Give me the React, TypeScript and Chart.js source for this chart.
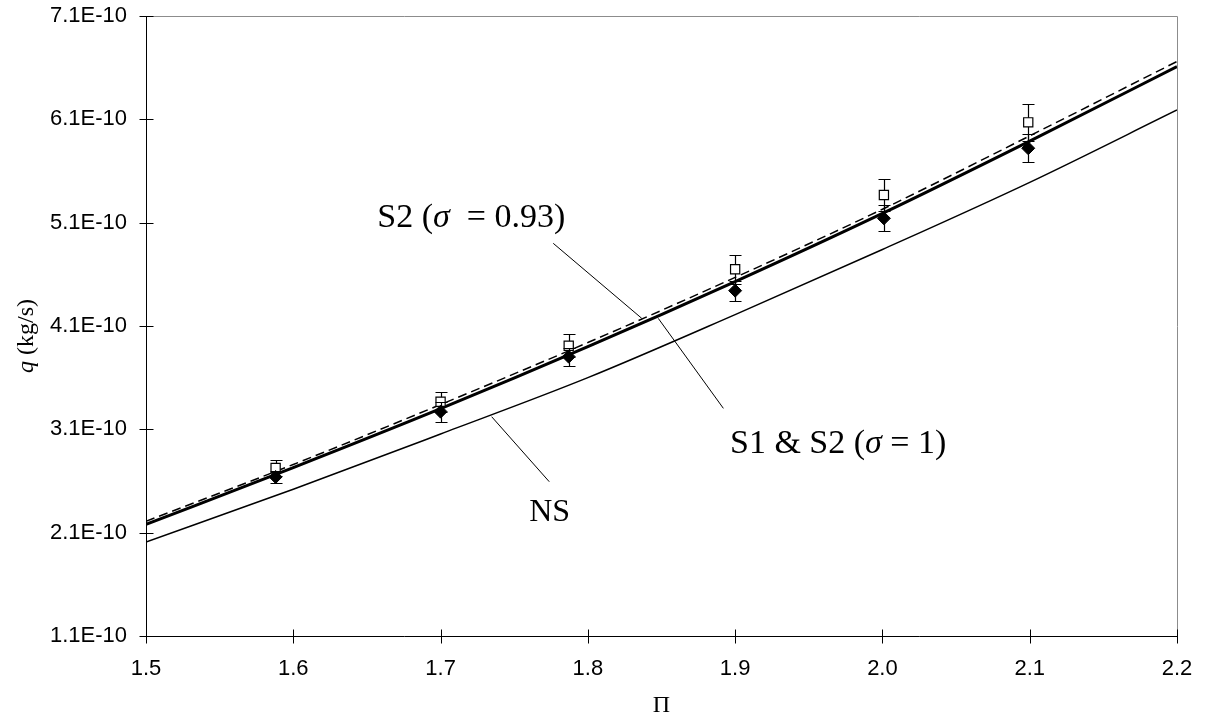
import React, { useEffect, useRef } from "react";
import { Chart, registerables } from "chart.js";

Chart.register(...registerables);

// ---- data (q in kg/s, Π dimensionless) ----
const piLine = [1.5, 1.6, 1.7, 1.8, 1.9, 2.0, 2.1, 2.2];
const qS1S2 = [2.18e-10, 2.73e-10, 3.3e-10, 3.9e-10, 4.53e-10, 5.19e-10, 5.89e-10, 6.61e-10];
const qS2sigma093 = [2.21e-10, 2.76e-10, 3.34e-10, 3.94e-10, 4.57e-10, 5.23e-10, 5.94e-10, 6.66e-10];
const qNS = [2.01e-10, 2.52e-10, 3.055e-10, 3.6e-10, 4.21e-10, 4.84e-10, 5.49e-10, 6.19e-10];

const piData = [1.588, 1.7, 1.787, 1.9, 2.001, 2.099];
const qSquare = [2.726e-10, 3.367e-10, 3.909e-10, 4.649e-10, 5.368e-10, 6.071e-10];
const errSquare = [0.073e-10, 0.097e-10, 0.11e-10, 0.138e-10, 0.152e-10, 0.177e-10];
const qDiamond = [2.639e-10, 3.271e-10, 3.803e-10, 4.442e-10, 5.142e-10, 5.82e-10];
const errDiamond = [0.06e-10, 0.097e-10, 0.087e-10, 0.097e-10, 0.125e-10, 0.137e-10];

const xTicks = [1.5, 1.6, 1.7, 1.8, 1.9, 2.0, 2.1, 2.2];
const yTicks = [1.1e-10, 2.1e-10, 3.1e-10, 4.1e-10, 5.1e-10, 6.1e-10, 7.1e-10];

const xTitle = "Π";
const yTitleItalic = "q";
const yTitleRest = " (kg/s)";

// annotation labels: [text, italic] parts, anchored (left, baseline) in data coords
const labels = [
  { parts: [["S2 (", false], ["σ", true], ["  = 0.93)", false]], x: 1.657, y: 5.061e-10, size: 34 },
  { parts: [["S1 & S2 (", false], ["σ", true], [" = 1)", false]], x: 1.8965, y: 2.868e-10, size: 34 },
  { parts: [["NS", false]], x: 1.7602, y: 2.216e-10, size: 32 },
];
const leaders = [
  [1.7765, 4.9e-10, 1.8366, 4.174e-10],
  [1.8478, 4.174e-10, 1.892, 3.303e-10],
  [1.7347, 3.222e-10, 1.7738, 2.593e-10],
];

// plot-area frame (pixels)
const AREA_TOP = 16;
const AREA_RIGHT = 1177;

const SERIF = "'Liberation Serif', 'Times New Roman', serif";
const SANS = "'Liberation Sans', Arial, sans-serif";

export default function App() {
  const ref = useRef<HTMLCanvasElement>(null);

  useEffect(() => {
    document.body.style.margin = "0";
    const canvas = ref.current!;

    const drawErr = (chart: any, vals: number[], errs: number[]) => {
      const { ctx } = chart;
      const x = chart.scales.x;
      const y = chart.scales.y;
      ctx.save();
      ctx.strokeStyle = "#000";
      ctx.lineWidth = 1.2;
      for (let i = 0; i < piData.length; i++) {
        const px = Math.round(x.getPixelForValue(piData[i])) + 0.5;
        const t = Math.round(y.getPixelForValue(vals[i] + errs[i])) + 0.5;
        const b = Math.round(y.getPixelForValue(vals[i] - errs[i])) + 0.5;
        ctx.beginPath();
        ctx.moveTo(px, t);
        ctx.lineTo(px, b);
        ctx.moveTo(px - 6, t);
        ctx.lineTo(px + 6, t);
        ctx.moveTo(px - 6, b);
        ctx.lineTo(px + 6, b);
        ctx.stroke();
      }
      ctx.restore();
    };

    const overlay = {
      id: "overlay",
      afterLayout(chart: any) {
        const ca = chart.chartArea;
        const x = chart.scales.x;
        const y = chart.scales.y;
        ca.top = AREA_TOP;
        ca.height = ca.bottom - AREA_TOP;
        ca.right = AREA_RIGHT;
        ca.width = AREA_RIGHT - ca.left;
        y.top = AREA_TOP;
        y.height = y.bottom - AREA_TOP;
        y.configure();
        x.right = AREA_RIGHT;
        x.width = AREA_RIGHT - x.left;
        x.configure();
      },
      beforeDatasetDraw(chart: any, args: any) {
        if (args.index === 1) drawErr(chart, qSquare, errSquare);
        if (args.index === 0) drawErr(chart, qDiamond, errDiamond);
      },
      afterDraw(chart: any) {
        const { ctx, chartArea } = chart;
        const x = chart.scales.x;
        const y = chart.scales.y;
        const L = Math.round(chartArea.left) + 0.5;
        const R = Math.round(chartArea.right) + 0.5;
        const T = Math.round(chartArea.top) + 0.5;
        const B = Math.round(chartArea.bottom) + 0.5;
        ctx.save();
        // gray plot-area border (top/right)
        ctx.strokeStyle = "#8c8c8c";
        ctx.lineWidth = 1;
        ctx.beginPath();
        ctx.moveTo(L, T);
        ctx.lineTo(R, T);
        ctx.lineTo(R, B);
        ctx.stroke();
        // black axes
        ctx.strokeStyle = "#000";
        ctx.beginPath();
        ctx.moveTo(L, T);
        ctx.lineTo(L, B);
        ctx.lineTo(R, B);
        ctx.stroke();
        // crossing tick marks
        ctx.beginPath();
        yTicks.forEach((v) => {
          const py = Math.round(y.getPixelForValue(v)) + 0.5;
          ctx.moveTo(L - 7, py);
          ctx.lineTo(L + 7, py);
        });
        xTicks.forEach((v) => {
          const px = Math.round(x.getPixelForValue(v)) + 0.5;
          ctx.moveTo(px, B - 7);
          ctx.lineTo(px, B + 7);
        });
        ctx.stroke();
        // leader lines
        ctx.lineWidth = 1;
        ctx.beginPath();
        leaders.forEach(([x1, y1, x2, y2]) => {
          ctx.moveTo(x.getPixelForValue(x1), y.getPixelForValue(y1));
          ctx.lineTo(x.getPixelForValue(x2), y.getPixelForValue(y2));
        });
        ctx.stroke();
        // annotation labels
        ctx.fillStyle = "#000";
        ctx.textBaseline = "alphabetic";
        ctx.textAlign = "left";
        labels.forEach((lab) => {
          let cx = x.getPixelForValue(lab.x);
          const cy = y.getPixelForValue(lab.y);
          lab.parts.forEach(([txt, it]) => {
            ctx.font = `${it ? "italic " : ""}${lab.size}px ${SERIF}`;
            ctx.fillText(txt as string, cx, cy);
            cx += ctx.measureText(txt as string).width;
          });
        });
        // y title (rotated, italic q)
        ctx.save();
        ctx.translate(33, 336);
        ctx.rotate(-Math.PI / 2);
        ctx.font = `italic 24px ${SERIF}`;
        const w1 = ctx.measureText(yTitleItalic).width;
        ctx.font = `24px ${SERIF}`;
        const w2 = ctx.measureText(yTitleRest).width;
        let sx = -(w1 + w2) / 2;
        ctx.font = `italic 24px ${SERIF}`;
        ctx.fillText(yTitleItalic, sx, 0);
        sx += w1;
        ctx.font = `24px ${SERIF}`;
        ctx.fillText(yTitleRest, sx, 0);
        ctx.restore();
        ctx.restore();
      },
    };

    const pts = (xs: number[], ys: number[]) => xs.map((v, i) => ({ x: v, y: ys[i] }));

    const chart = new Chart(canvas, {
      type: "scatter",
      data: {
        datasets: [
          {
            label: "S1 data",
            data: pts(piData, qDiamond),
            pointStyle: "rectRot",
            pointRadius: 6.5,
            backgroundColor: "#000",
            borderColor: "#000",
            borderWidth: 1,
            showLine: false,
          },
          {
            label: "S2 data",
            data: pts(piData, qSquare),
            pointStyle: "rect",
            pointRadius: 6.5,
            backgroundColor: "#fff",
            borderColor: "#000",
            borderWidth: 1.2,
            showLine: false,
          },
          {
            label: "S1 & S2 (σ = 1)",
            data: pts(piLine, qS1S2),
            showLine: true,
            borderColor: "#000",
            borderWidth: 3,
            pointRadius: 0,
            cubicInterpolationMode: "monotone",
          },
          {
            label: "S2 (σ = 0.93)",
            data: pts(piLine, qS2sigma093),
            showLine: true,
            borderColor: "#000",
            borderWidth: 1.5,
            borderDash: [9, 5],
            pointRadius: 0,
            cubicInterpolationMode: "monotone",
          },
          {
            label: "NS",
            data: pts(piLine, qNS),
            showLine: true,
            borderColor: "#000",
            borderWidth: 1.5,
            pointRadius: 0,
            cubicInterpolationMode: "monotone",
          },
        ],
      },
      options: {
        responsive: false,
        animation: false,
        events: [],
        layout: { padding: { left: 0, top: 16, right: 28, bottom: 0 } },
        plugins: { legend: { display: false }, tooltip: { enabled: false }, title: { display: false } },
        scales: {
          x: {
            type: "linear",
            min: 1.5,
            max: 2.2,
            grid: { display: false, drawTicks: false },
            border: { display: false },
            afterBuildTicks: (s: any) => {
              s.ticks = xTicks.map((v) => ({ value: v }));
            },
            afterFit: (s: any) => {
              s.height = 90;
            },
            ticks: {
              color: "#000",
              padding: 20,
              maxRotation: 0,
              font: { family: SANS, size: 22 },
              callback: (v: any) => Number(v).toFixed(1),
            },
            title: {
              display: true,
              text: xTitle,
              color: "#000",
              font: { family: SERIF, size: 24 },
              padding: { top: 0, bottom: 6 },
            },
          },
          y: {
            type: "linear",
            min: 1.1e-10,
            max: 7.1e-10,
            grid: { display: false, drawTicks: false },
            border: { display: false },
            afterBuildTicks: (s: any) => {
              s.ticks = yTicks.map((v) => ({ value: v }));
            },
            afterFit: (s: any) => {
              s.width = 146;
            },
            ticks: {
              color: "#000",
              padding: 19,
              font: { family: SANS, size: 22 },
              callback: (v: any) => (Number(v) * 1e10).toFixed(1) + "E-10",
            },
          },
        },
      },
      plugins: [overlay],
    } as any);

    return () => chart.destroy();
  }, []);

  return (
    <div style={{ position: "absolute", left: 0, top: 0, width: 1205, height: 726, background: "#fff" }}>
      <canvas ref={ref} width={1205} height={726} style={{ width: 1205, height: 726, display: "block" }} />
    </div>
  );
}
